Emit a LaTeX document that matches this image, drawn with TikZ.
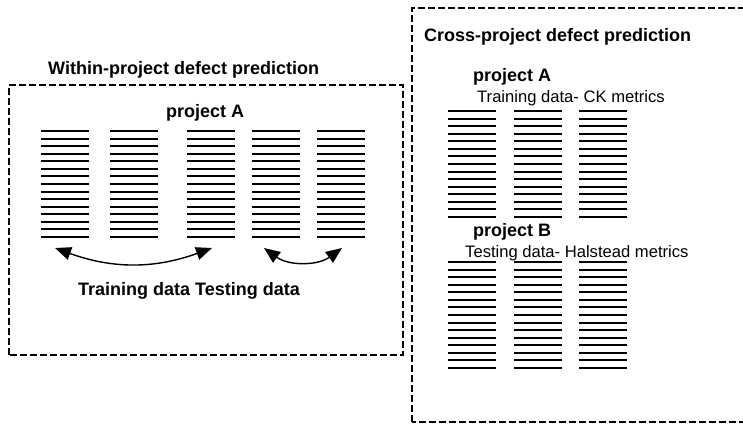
\documentclass[tikz,border=0pt]{standalone}
\usepackage{fontspec}
\setmainfont{Liberation Sans}
\usetikzlibrary{arrows.meta}
\tikzset{
  dashframe/.style={draw=black, line width=2.8pt, dash pattern=on 7pt off 3pt},
  datarow/.style={line width=2pt},
  swaparrow/.style={line width=1.4pt,
    {Triangle[length=16pt, width=13pt]}-{Triangle[length=16pt, width=13pt]}},
  boldlbl/.style={inner sep=0pt, anchor=base west, font=\fontsize{18}{20}\selectfont\bfseries},
  plainlbl/.style={inner sep=0pt, anchor=base west, font=\fontsize{16.6}{19}\selectfont}
}
\begin{document}
\begin{tikzpicture}[x=1pt, y=1pt]
    \clip (0,0) rectangle (743,424);

    % 1. Within-project (left frame)
    \draw[dashframe] (9,69) rectangle (403,339);
    \node[boldlbl] (wtitle) at (48,349) {Within-project defect prediction};
    \node[boldlbl] (wprojA) at (166,307) {project A};
    \foreach \cx in {41,110,187,252,317}
        \foreach \k in {0,...,14}
            \draw[datarow] (\cx, 293-7.57*\k) -- ++(48,0);

    % arrows between the column groups
    \coordinate (trL) at (55,176);
    \coordinate (trR) at (212,176);
    \coordinate (teL) at (264,176);
    \coordinate (teR) at (342,176);
    \draw[swaparrow] (trL) to[bend right=20] (trR);
    \draw[swaparrow] (teL) to[bend right=36] (teR);
    \node[boldlbl] (wdata) at (78,129) {Training data Testing data};

    % 2. Cross-project (right frame, cut at the edge)
    \draw[dashframe] (412,2) rectangle (770,416);
    \node[boldlbl] (ctitle) at (424,382) {Cross-project defect prediction};
    \node[boldlbl] (cprojA) at (473,342) {project A};
    \node[plainlbl] (ctrain) at (477,322) {Training data- CK metrics};
    \foreach \cx in {448,514,579}
        \foreach \k in {0,...,14}
            \draw[datarow] (\cx, 313-7.57*\k) -- ++(48,0);
    \node[boldlbl] (cprojB) at (473,188) {project B};
    \node[plainlbl] (ctest) at (465,167) {Testing data- Halstead metrics};
    \foreach \cx in {448,514,579}
        \foreach \k in {0,...,14}
            \draw[datarow] (\cx, 162-7.57*\k) -- ++(48,0);
\end{tikzpicture}
\end{document}
